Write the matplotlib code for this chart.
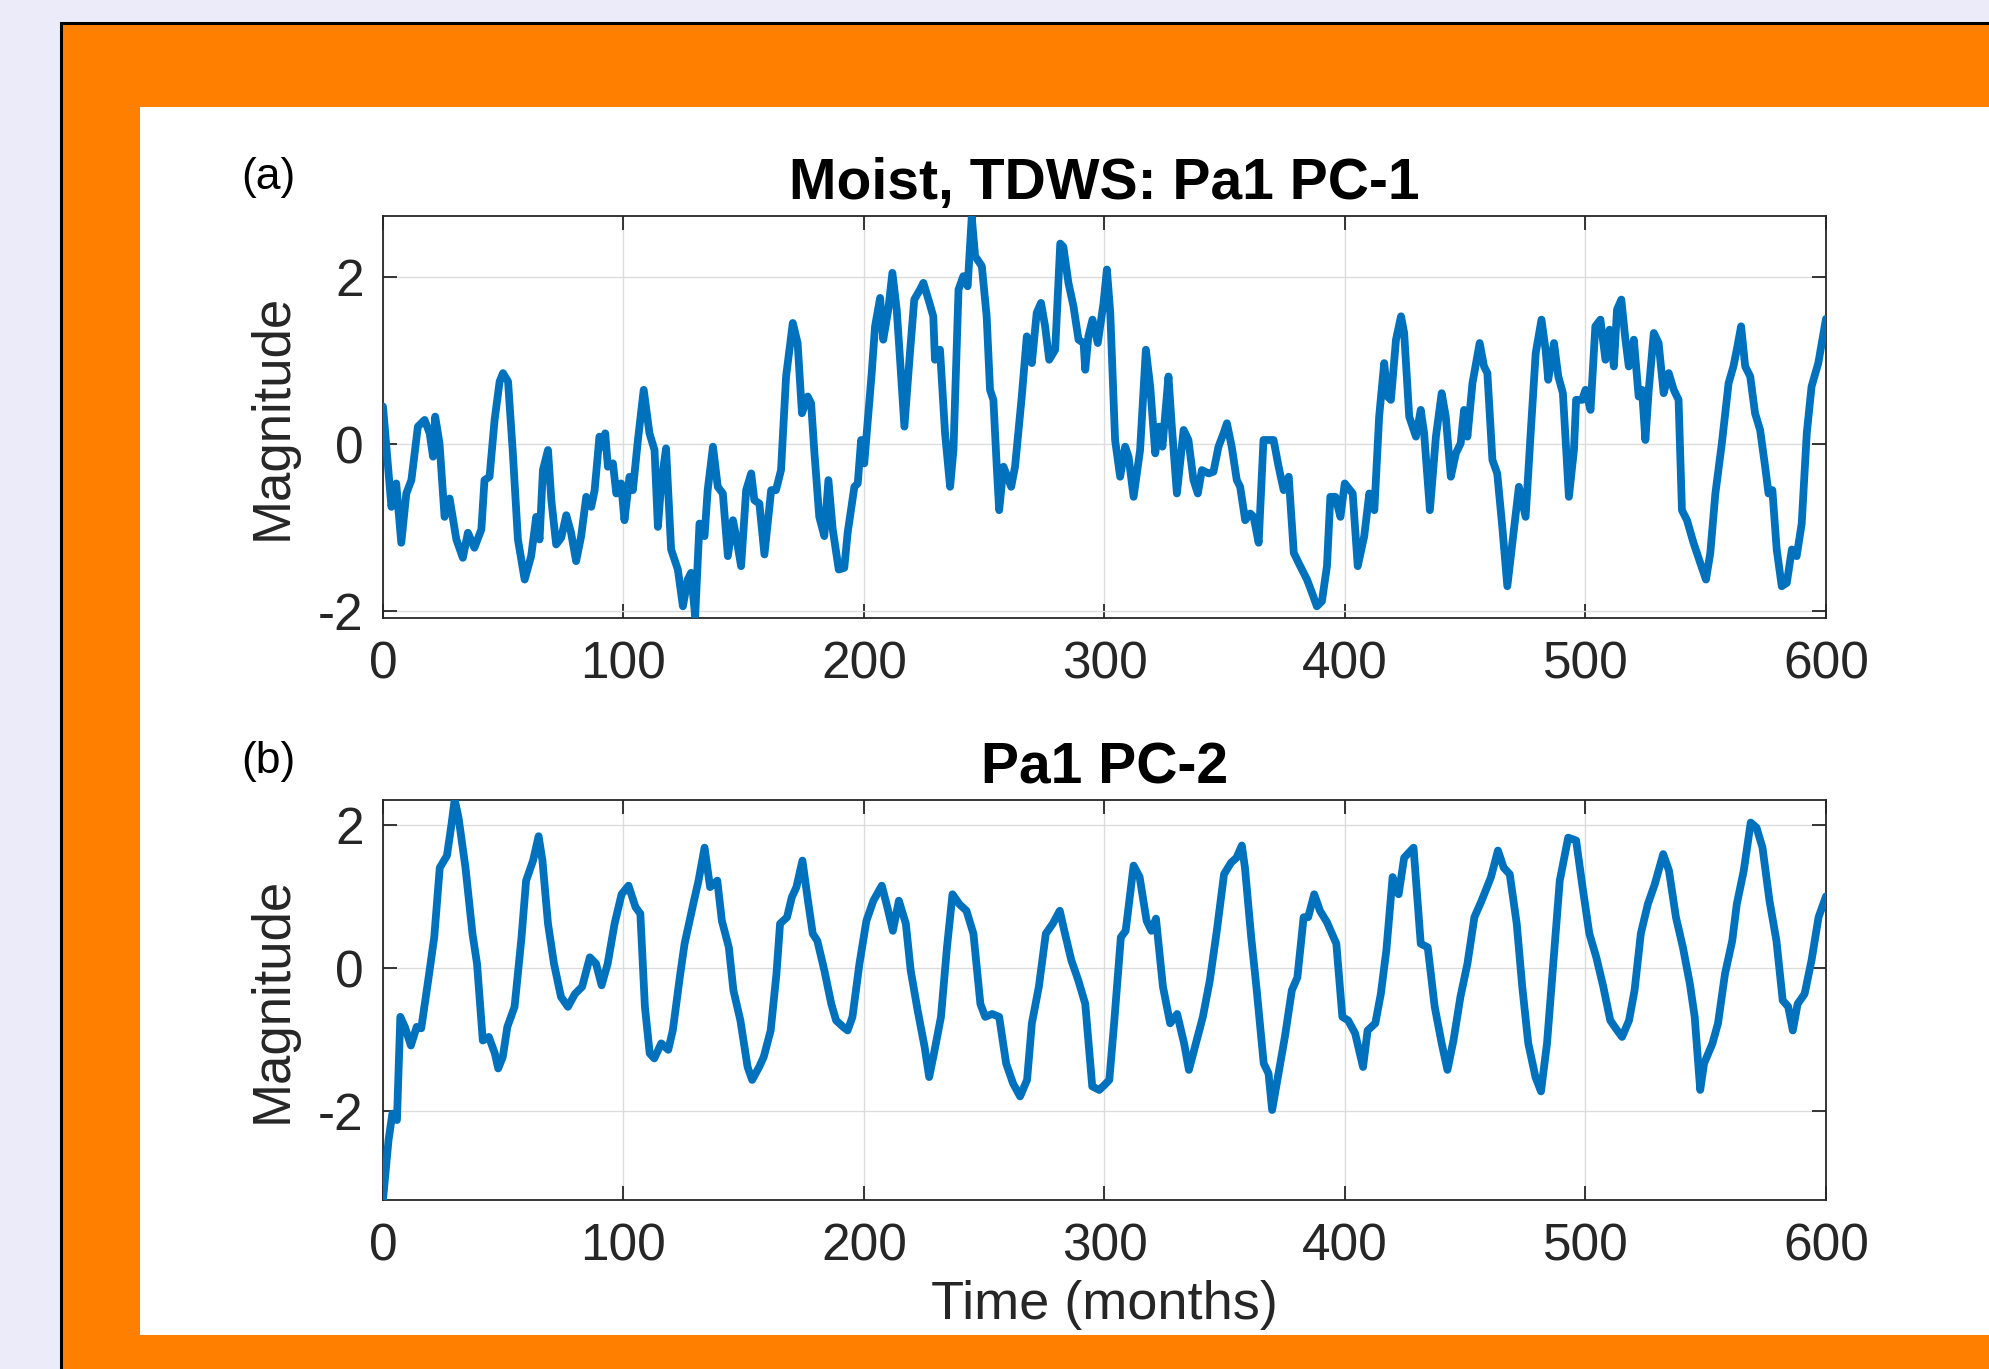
import matplotlib.pyplot as plt
from matplotlib.patches import Rectangle

# PC-1 (month, magnitude)
months_pc1 = [0, 3.5, 5.5, 7.6, 9.7, 11.8, 14.5, 17.3, 19.4, 20.8, 21.7, 23.5, 25.6, 27.7,
              30.5, 33.2, 35.3, 38, 40.9, 42.2, 44.3, 46.4, 48.5, 49.9, 52, 52.6, 54, 56.1,
              58.9, 61.6, 63.7, 65.1, 66.5, 68.6, 70, 72, 74.1, 76.2, 78.2, 80.3, 82.4, 84.5,
              86.6, 88, 90, 91.4, 92.4, 93.5, 95.6, 97, 99, 100.4, 102.5, 103.9, 106, 108.4,
              110.8, 112.9, 114.3, 115.7, 117.7, 119.8, 122.6, 124.7, 126.7, 128.1, 129.8,
              131.6, 133.7, 135, 137.2, 139.2, 141.3, 143.4, 145.5, 146.8, 148.9, 151, 153.1,
              154.4, 156.5, 158.6, 161.4, 163.4, 165.5, 167.6, 170.4, 172.4, 174.2, 176.6,
              178, 179.4, 181.4, 183.5, 185.2, 187, 189.5, 191.8, 193.2, 196, 197.4, 198.8,
              200.1, 203.2, 204.6, 206.7, 208, 210.1, 211.8, 213.6, 215, 216.8, 219.1, 220.9,
              223.3, 224.7, 226.8, 228.8, 229.5, 231.6, 233.7, 235.8, 237.2, 239.3, 241.3,
              243.1, 244.8, 246.2, 249, 251, 252.4, 253.8, 255.2, 256.2, 258, 261.2, 262.8,
              265.6, 267.7, 269.8, 271.8, 273.6, 275.3, 277, 279.5, 281.6, 282.9, 285, 287.1,
              289.2, 291.3, 292, 293.3, 295, 297.2, 299.6, 301, 302.4, 304.4, 306.5, 308.6,
              310, 312.1, 314.8, 317.2, 319, 321.1, 322.7, 324.1, 326.6, 328, 330.1, 332.9,
              334.9, 337, 338.8, 340.5, 343.3, 345.3, 347.4, 349.5, 350.9, 352.9, 355, 356.4,
              358.5, 360.6, 362, 364.1, 366.1, 368.2, 370.3, 372.4, 374.5, 376.6, 378.7,
              380.7, 382.1, 384.2, 386.3, 388.3, 390.4, 392.5, 393.9, 396, 398.1, 399.9,
              403.2, 405.3, 408, 410.1, 412.2, 414.2, 416.3, 417.7, 419.1, 421.2, 423.3,
              424.6, 426.7, 429.5, 431.5, 432.9, 435.3, 437.8, 440.2, 441.9, 444, 446.1,
              448.1, 449.5, 450.9, 453, 456, 457.8, 459.2, 461.3, 463.3, 465.4, 467.5, 469.6,
              472.3, 475.1, 477.2, 479.3, 481.7, 483.4, 484.5, 486.9, 488.7, 490.6, 493.1,
              495.2, 496.1, 498.6, 500, 502.1, 504.1, 506.2, 508.3, 510, 511.8, 513.1, 514.9,
              516.6, 518, 520.1, 522.1, 523.5, 524.9, 526.3, 528.4, 530.4, 532.5, 534.6,
              536.7, 538.7, 540.1, 542.2, 544.9, 547.7, 550.1, 551.9, 554, 556.7, 559.5,
              561.5, 562.9, 564.7, 566.4, 568.5, 570.5, 572.6, 574.7, 576.1, 577.7, 579.5,
              581.6, 583.7, 585.8, 587.8, 589.9, 592, 594, 596.8, 600]
pc1 = [0.45, -0.75, -0.47, -1.18, -0.59, -0.43, 0.21, 0.29, 0.13, -0.15, 0.33, 0.01, -0.87, -0.65,
       -1.14, -1.36, -1.06, -1.24, -1.02, -0.43, -0.39, 0.29, 0.75, 0.85, 0.75, 0.49, -0.11, -1.14,
       -1.62, -1.34, -0.87, -1.14, -0.31, -0.07, -0.67, -1.2, -1.12, -0.85, -1.06, -1.4, -1.1, -0.63,
       -0.75, -0.55, 0.09, -0.03, 0.13, -0.27, -0.23, -0.59, -0.47, -0.91, -0.39, -0.55, 0.05, 0.65,
       0.13, -0.07, -0.99, -0.47, -0.05, -1.26, -1.5, -1.94, -1.62, -1.54, -2.06,
       -0.95, -1.1, -0.55, -0.03, -0.51, -0.59, -1.34, -0.91, -1.1, -1.46, -0.55, -0.35,
       -0.67, -0.71, -1.32, -0.55, -0.55, -0.31, 0.81, 1.45, 1.21, 0.37, 0.57,
       0.49, -0.11, -0.87, -1.1, -0.43, -1.02, -1.5, -1.48, -1.06, -0.51, -0.47, 0.05,
       -0.23, 0.85, 1.41, 1.75, 1.25, 1.61, 2.05, 1.61, 1.01, 0.21, 1.09, 1.73,
       1.85, 1.93, 1.73, 1.53, 1.01, 1.13, 0.13, -0.51, -0.07, 1.85, 2.01,
       1.89, 2.72, 2.25, 2.13, 1.53, 0.65, 0.53, -0.27, -0.79, -0.27, -0.51, -0.27,
       0.57, 1.29, 0.97, 1.57, 1.69, 1.41, 1.01, 1.13, 2.4, 2.36, 1.93, 1.65,
       1.25, 1.21, 0.89, 1.29, 1.49, 1.21, 1.69, 2.09, 1.57, 0.05, -0.39, -0.03,
       -0.15, -0.63, -0.07, 1.13, 0.69, -0.11, 0.21, -0.03, 0.81, 0.21, -0.59, 0.17,
       0.05, -0.43, -0.59, -0.31, -0.35, -0.33, -0.03, 0.13, 0.25, -0.03, -0.43, -0.51,
       -0.91, -0.83, -0.87, -1.18, 0.05, 0.05, 0.05, -0.27, -0.55, -0.39, -1.3,
       -1.42, -1.5, -1.62, -1.78, -1.94, -1.88, -1.46, -0.63, -0.63, -0.87, -0.47,
       -0.59, -1.46, -1.1, -0.59, -0.79, 0.33, 0.97, 0.57, 0.53, 1.25, 1.53,
       1.33, 0.33, 0.09, 0.41, 0.13, -0.79, 0.09, 0.61, 0.33, -0.39, -0.11,
       0.01, 0.41, 0.09, 0.73, 1.21, 0.93, 0.85, -0.19, -0.35, -0.99, -1.7, -1.18,
       -0.51, -0.87, 0.13, 1.09, 1.49, 1.13, 0.77, 1.21, 0.81, 0.61, -0.63,
       -0.07, 0.53, 0.53, 0.65, 0.41, 1.41, 1.49, 1.01, 1.37, 0.93, 1.61, 1.73,
       1.25, 0.93, 1.25, 0.57, 0.65, 0.05, 0.65, 1.33, 1.21, 0.61, 0.85,
       0.65, 0.53, -0.79, -0.91, -1.18, -1.42, -1.62, -1.3, -0.59, 0.01, 0.73,
       0.93, 1.13, 1.41, 0.93, 0.81, 0.37, 0.17, -0.27, -0.59, -0.55, -1.26,
       -1.7, -1.66, -1.26, -1.34, -0.95, 0.13, 0.69, 0.97, 1.5]

# PC-2 (month, magnitude)
months_pc2 = [0, 2.3, 3.9, 5.8, 7.2, 9.1, 11.6, 14, 15.9, 18.8, 21.3, 23.6, 26.6, 28.5, 29.8,
              31.4, 34.3, 37.2, 39.1, 41.5, 44, 46.5, 47.9, 49.8, 51.7, 54.7, 57.6, 59.5,
              62.4, 64.7, 66.3, 68.6, 71.1, 74, 76.9, 79.8, 82.8, 86, 88.6, 90.9, 93.4, 96.3,
              99.2, 102.1, 105, 107, 108.9, 110.9, 112.8, 115.7, 118.6, 120.5, 123.4, 125.4,
              129.3, 131.2, 133.7, 136, 139, 140.9, 143.8, 145.7, 148.6, 151.6, 153.5, 156.4,
              158.3, 161.2, 163.6, 165.1, 168, 170, 171.9, 174.4, 176.7, 178.7, 180.6, 183.5,
              186.4, 188.4, 191.3, 193.2, 195.2, 198.1, 201, 203.9, 207.4, 209.7, 212, 214.5,
              217.4, 219.4, 222.3, 225.2, 227.1, 229.1, 232, 234.5, 236.8, 239.7, 242.6,
              245.5, 248.4, 250.4, 253.3, 256.2, 259.1, 262, 264.9, 267.8, 269.8, 272.7,
              275.6, 278.5, 281.4, 283.3, 286.2, 289.1, 292, 294.9, 297.8, 300, 302, 304,
              306.8, 308.8, 312.1, 314.6, 317.5, 319.5, 321.4, 324.3, 327.3, 330.2, 333.1,
              335.1, 338, 340.9, 343.8, 346.7, 349.7, 352.6, 354.9, 357.1, 358.4, 361, 363.3,
              366.2, 368.2, 369.7, 372.1, 375, 377.9, 380.2, 382.8, 384.7, 387.2, 389.6,
              392.5, 396.4, 398.9, 401.3, 404.2, 407.5, 409.4, 412.6, 414.9, 417.2, 419.8,
              422.3, 424.6, 428.5, 431.5, 434.4, 437.3, 440.2, 442.6, 445.1, 448, 450.9,
              453.8, 456.8, 460.7, 463.6, 466, 468.5, 471.4, 473.7, 476.2, 479.2, 481.5, 484,
              486.9, 489.3, 492.8, 496.1, 498.6, 501.6, 504.5, 507.4, 510.3, 513.2, 515.2,
              518.1, 520.4, 523, 525.9, 528.8, 532.3, 534.7, 537.6, 540.5, 543.4, 545.4,
              547.7, 549.3, 552.8, 555.1, 558, 561, 562.9, 565.8, 568.7, 571.1, 573.6, 576.5,
              579.4, 582, 584.3, 586.2, 588.2, 591.1, 594, 596.9, 600]
pc2 = [-3.23, -2.4, -2.03, -2.12, -0.68, -0.82, -1.08, -0.82, -0.84, -0.17, 0.43, 1.4, 1.57, 2.01, 2.35,
       2.1, 1.4, 0.48, 0.06, -1.01, -0.96, -1.19, -1.4, -1.24, -0.82, -0.54, 0.43, 1.22,
       1.5, 1.84, 1.5, 0.62, 0.06, -0.4, -0.54, -0.36, -0.26, 0.15, 0.06, -0.24, 0.06, 0.62,
       1.03, 1.15, 0.85, 0.76, -0.54, -1.19, -1.26, -1.05, -1.14, -0.87, -0.13, 0.34,
       0.94, 1.22, 1.68, 1.13, 1.22, 0.66, 0.29, -0.31, -0.73, -1.38, -1.56, -1.38,
       -1.24, -0.87, -0.08, 0.62, 0.71, 0.99, 1.13, 1.5, 0.94, 0.48, 0.38, -0.03,
       -0.5, -0.73, -0.82, -0.87, -0.68, 0.06, 0.66, 0.94, 1.15, 0.85, 0.52, 0.94,
       0.62, -0.03, -0.59, -1.1, -1.52, -1.19, -0.68, 0.29, 1.03, 0.89, 0.8,
       0.48, -0.5, -0.68, -0.64, -0.68, -1.33, -1.61, -1.79, -1.56, -0.77, -0.26,
       0.48, 0.62, 0.8, 0.52, 0.11, -0.17, -0.5, -1.65, -1.7, -1.63, -1.56, -0.77,
       0.43, 0.52, 1.43, 1.27, 0.66, 0.52, 0.69, -0.26, -0.77, -0.64, -1.05,
       -1.42, -1.05, -0.68, -0.17, 0.52, 1.31, 1.47, 1.54, 1.71, 1.4, 0.43, -0.31,
       -1.33, -1.47, -1.98, -1.52, -0.96, -0.31, -0.13, 0.71, 0.71, 1.03, 0.8,
       0.64, 0.34, -0.68, -0.73, -0.91, -1.38, -0.87, -0.77, -0.36, 0.25, 1.27,
       1.03, 1.54, 1.68, 0.34, 0.29, -0.54, -1.05, -1.42, -1.01, -0.4, 0.06,
       0.71, 0.94, 1.27, 1.64, 1.4, 1.31, 0.62, -0.26, -1.05, -1.52, -1.72, -1.05,
       0.2, 1.22, 1.82, 1.78, 1.17, 0.48, 0.15, -0.26, -0.73, -0.87, -0.96,
       -0.73, -0.31, 0.48, 0.89, 1.17, 1.59, 1.36, 0.71, 0.29, -0.22, -0.68,
       -1.7, -1.33, -1.05, -0.77, -0.08, 0.38, 0.89, 1.36, 2.03, 1.96, 1.68, 0.94,
       0.38, -0.45, -0.54, -0.87, -0.5, -0.36, 0.11, 0.71, 1.0]

xticks = [0, 100, 200, 300, 400, 500, 600]
yticks = [-2, 0, 2]
titles = ['Moist, TDWS: Pa1 PC-1', 'Pa1 PC-2']
panel_tags = ['(a)', '(b)']

W, H = 1990, 1369
blue = '#0072BD'
dark = '#262626'

plt.rcParams['font.family'] = ['Liberation Sans', 'DejaVu Sans']
plt.rcParams['axes.unicode_minus'] = False  # plain hyphen like "-2"

fig = plt.figure(figsize=(W / 100, H / 100), dpi=100)
fig.patch.set_facecolor('#EBEBFA')

# orange frame with black top/left edge, white panel inside (behind the axes)
fig.patches.append(Rectangle((61 / W, -0.1), 1.2, 1.1 - 23 / H, transform=fig.transFigure,
                             facecolor='#FF8000', edgecolor='black', linewidth=2.2, zorder=-3))
fig.patches.append(Rectangle((140 / W, 34 / H), 1.0, (1335 - 107) / H, transform=fig.transFigure,
                             facecolor='white', edgecolor='none', zorder=-2))

# axes boxes in pixels: left, right, top, bottom
boxes = [(383, 1826, 216, 618), (383, 1826, 800, 1200)]
ylims = [(-2.08, 2.73), (-3.235, 2.345)]
series = [(months_pc1, pc1), (months_pc2, pc2)]

for i in range(2):
    l, r, t, b = boxes[i]
    ax = fig.add_axes([l / W, 1 - b / H, (r - l) / W, (b - t) / H])
    x, y = series[i]
    ax.plot(x, y, color=blue, linewidth=5.6, solid_joinstyle='round',
            solid_capstyle='round', zorder=3)
    ax.set_xlim(0, 600)
    ax.set_ylim(*ylims[i])
    ax.set_xticks(xticks)
    ax.set_yticks(yticks)
    ax.grid(True, color='#DCDCDC', linewidth=1.0)
    ax.set_axisbelow(True)
    ax.tick_params(direction='in', length=10, width=1.3, colors=dark, labelsize=37,
                   top=True, right=True)
    ax.tick_params(axis='x', pad=16)
    ax.tick_params(axis='y', pad=14)
    for s in ax.spines.values():
        s.set_linewidth(1.3)
        s.set_color(dark)
    fig.text((l + r) / 2 / W, 1 - (t - 17) / H, titles[i], ha='center', va='baseline',
             fontsize=41, fontweight='bold', color='black')
    fig.text(268 / W, 1 - (t - 38) / H, panel_tags[i], ha='center', va='center',
             fontsize=32, color='black')
    fig.text(273 / W, 1 - (t + b) / 2 / H, 'Magnitude', ha='center', va='center',
             rotation=90, fontsize=38, color=dark)

fig.text(1104 / W, 1 - 1305 / H, 'Time (months)', ha='center', va='center',
         fontsize=39, color=dark)

fig.savefig('out.png', dpi=100, facecolor=fig.get_facecolor())
